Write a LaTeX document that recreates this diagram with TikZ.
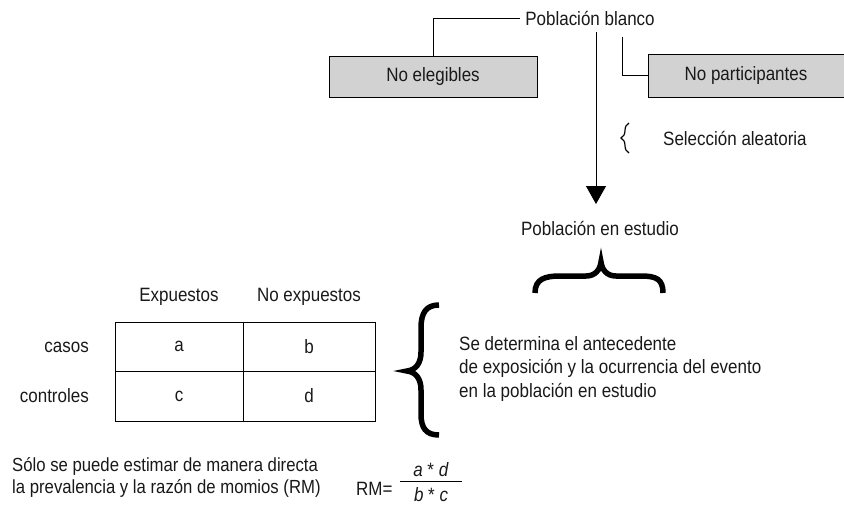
\documentclass[tikz,border=0pt]{standalone}
\usepackage{fontspec}
\setmainfont[FakeStretch=0.88]{Liberation Sans}
\usetikzlibrary{arrows.meta,decorations.pathreplacing}
\begin{document}
\begin{tikzpicture}[x=1pt,y=-1pt,
  every node/.style={font=\fontsize{19.3}{23.5}\selectfont, inner sep=0pt, text=black!90},
  graybox/.style={draw=black, fill=gray!35, line width=0.9pt},
  cell/.style={draw=black, line width=0.8pt},
  conn/.style={draw=black, line width=0.9pt},
  bigbrace/.style={draw=black, line width=5.5pt, line cap=butt}]
\useasboundingbox (0,0) rectangle (844,509);

% top part
\node (pb) at (590,18) {Población blanco};
\node[graybox, minimum width=208pt, minimum height=41pt] (ne) at (433,76.5) {No elegibles};
\node[graybox, minimum width=196pt, minimum height=43pt] (np) at (746,75.5) {No participantes};
\coordinate (npt) at (622,37);
\coordinate (a1) at (596,32);
\coordinate (a2) at (596,204);
\draw[conn] ([xshift=-5pt]pb.west) -| (ne.north);
\draw[conn] (npt) |- (np.west);
\draw[conn, -{Triangle[width=20pt,length=18pt]}] (a1) -- (a2);

% small brace and label
\draw[line width=1.2pt, decorate, decoration={brace, amplitude=8pt}] (629,153) -- (629,123);
\node[anchor=west] (sel) at (663,138) {Selección aleatoria};
\node (pe) at (600,228) {Población en estudio};

% horizontal big brace
\draw[bigbrace] (535,293) .. controls (535,279) and (545,276) .. (560,276) -- (586,276)
  .. controls (595,276) and (600,270) .. (601,262)
  .. controls (602,270) and (607,276) .. (616,276) -- (641,276)
  .. controls (656,276) and (663,279) .. (663,293);

% table
\node (h1) at (179,297) {Expuestos};
\node (h2) at (309,297) {No expuestos};
\node[cell, minimum width=128pt, minimum height=49pt] (ca) at (179,346.5) {a};
\node[cell, minimum width=132pt, minimum height=49pt] (cb) at (309,346.5) {b};
\node[cell, minimum width=128pt, minimum height=50pt] (cc) at (179,396) {c};
\node[cell, minimum width=132pt, minimum height=50pt] (cd) at (309,396) {d};
\node[anchor=east] (r1) at (89,347) {casos};
\node[anchor=east] (r2) at (89,396) {controles};

% vertical big brace
\draw[bigbrace] (439,305) .. controls (426,305) and (421,313) .. (421,328) -- (421,352)
  .. controls (421,363) and (416,370) .. (407,371)
  .. controls (416,372) and (421,379) .. (421,390) -- (421,414)
  .. controls (421,428) and (426,435) .. (439,435);

\node[anchor=west, align=left] (sd) at (459,369) {Se determina el antecedente\\de exposición y la ocurrencia del evento\\en la población en estudio};

% bottom
\node[anchor=west, align=left, font=\fontsize{19}{22}\selectfont] (so) at (12,477) {Sólo se puede estimar de manera directa\\la prevalencia y la razón de momios (RM)};
\node[anchor=west] (rm) at (356,489) {RM=};
\node (num) at (431,470) {\textit{a} * \textit{d}};
\node (den) at (431,495) {\textit{b} * \textit{c}};
\coordinate (bl) at (400,481);
\coordinate (br) at (462,481);
\draw[line width=0.9pt] (bl) -- (br);
\end{tikzpicture}
\end{document}
